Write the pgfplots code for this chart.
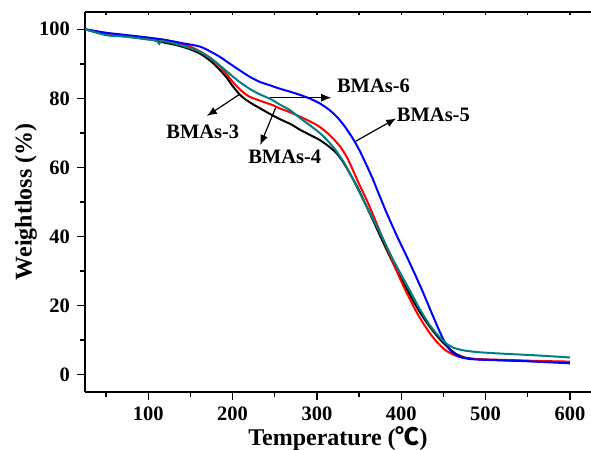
\documentclass[border=0pt]{standalone}
\usepackage{fontspec}
\setmainfont{Liberation Serif}
\newfontfamily\cjk{Noto Sans CJK SC}
\usepackage{pgfplots}
\pgfplotsset{compat=1.18}
\usetikzlibrary{arrows.meta}

\definecolor{darkcyan}{RGB}{0,128,128}

\begin{document}
\begin{tikzpicture}
% picture frame: the axis box is (0,0)--(253pt,190pt)
\useasboundingbox (-42.5pt,-29pt) rectangle (253pt,196pt);
\begin{axis}[
  name=main,
  scale only axis, width=253pt, height=190pt,
  xmin=25, xmax=625, ymin=-5, ymax=105,
  axis x line=bottom, axis y line=left,
  axis line style={-, line width=0.7pt},
  xtick={100,200,...,600}, minor xtick={50,150,...,550},
  ytick={0,20,...,100}, minor ytick={10,30,...,90},
  tick align=outside, major tick length=4pt, minor tick length=2.5pt,
  every tick/.style={black, line width=0.7pt},
  tick label style={font=\fontsize{10.25}{12}\selectfont\bfseries},
  /pgf/number format/assume math mode=true,
  xlabel={Temperature ({\cjk\bfseries ℃})},
  ylabel={Weightloss (\%)},
  label style={font=\fontsize{12}{14}\selectfont\bfseries},
  xlabel style={at={(axis description cs:0.5,0)}, anchor=center, yshift=-23.5pt},
  ylabel style={at={(axis description cs:0,0.5)}, anchor=center, yshift=29.5pt},
  clip=false,
  every axis plot/.append style={line width=1pt, smooth},
]
% BMAs-3
\addplot[black] coordinates {
(25,100) (50,98.6) (75,97.9) (100,97.2) (114,96.4) (130,95.6) (145,94.6)
(161,93.0) (175,90.6) (185,88.2) (193,86) (200,83.6) (207,81.5) (212,80.3)
(222,78.6) (232,77.2) (245,75.4) (256,74.0) (270,72.4) (280,70.9) (292,69.4)
(303,68.0) (313,66.3) (323,64.2) (331,61.6) (339,58.3) (348,54.3) (357,49.7)
(366,45) (375,40.2) (385,35) (395,30) (405,25.5) (415,21) (425,17) (435,13.5)
(445,10.5) (455,8) (465,6) (475,5.0) (490,4.5) (520,4.2) (560,3.9) (600,3.6)
};
% BMAs-4
\addplot[red] coordinates {
(25,100) (50,98.8) (75,98) (100,97.4) (115,97.1) (130,96.4) (145,95.4)
(160,93.8) (175,91.5) (185,89.2) (193,87) (200,84.8) (210,82.3) (220,80.5)
(234,79.2) (248,78) (256,77.1) (268,76) (280,74.7) (292,73.3) (303,71.8)
(315,69.4) (327,66.2) (335,63.2) (342,59.6) (350,55.2) (359,50.6) (366,46.6)
(375,41.3) (385,35.5) (395,29.8) (402,26) (412,21) (422,16.5) (434,12)
(444,9) (453,7) (462,5.8) (472,5) (490,4.5) (520,4.3) (560,4.0) (600,3.8)
};
% BMAs-5
\addplot[blue] coordinates {
(25,100) (50,99) (75,98.3) (100,97.6) (120,96.9) (140,96) (161,95)
(175,93.4) (185,92) (197,90) (208,88.2) (220,86.3) (232,84.8) (244,83.8)
(256,82.8) (270,81.8) (280,81) (291,80) (303,78.6) (315,76.6) (325,74.3)
(335,71.2) (345,67.4) (352,64.2) (359,60.6) (366,56.8) (373,52.6) (380,48.4)
(386,45) (395,40.1) (405,35) (414,30.3) (425,24.3) (435,18.5) (445,12.8)
(452,9.3) (460,6.6) (469,5.2) (480,4.6) (500,4.3) (540,4.0) (600,3.3)
};
% BMAs-6
\addplot[darkcyan] coordinates {
(25,100) (50,98.3) (75,97.8) (100,97.0) (110,96.7) (113,95.8) (116,96.6)
(130,95.9) (145,94.9) (161,93.5) (175,91.4) (185,89.5) (197,87) (208,84.8)
(220,82.8) (232,81.2) (245,79.8) (256,78.2) (268,76.6) (280,74.3) (295,71.6)
(307,69.2) (319,66) (328,63) (335,60.2) (345,55.5) (355,50.6) (362,47.2)
(370,43.5) (380,38.5) (392,32.5) (410,24.5) (422,19) (434,14.3) (445,11)
(453,9.1) (462,7.8) (475,7.0) (493,6.5) (520,6.1) (560,5.6) (600,5.0)
};

\begin{scope}[-{Latex[length=5pt,width=4pt]}, line width=0.6pt, black]
\draw (axis cs:208.5,81.2) -- (axis cs:169.5,74.9);
\draw (axis cs:251.1,77.3) -- (axis cs:232.8,66.5);
\draw (axis cs:244.9,80.2) -- (axis cs:317.0,80.2);
\draw (axis cs:344.6,67.4) -- (axis cs:394.0,74.2);
\end{scope}
\begin{scope}[every node/.style={font=\fontsize{10.25}{12}\selectfont\bfseries}]
\node at (axis cs:164.7,70.2) {BMAs-3};
\node at (axis cs:261.8,63.0) {BMAs-4};
\node at (axis cs:438.1,75.2) {BMAs-5};
\node at (axis cs:367.1,83.6) {BMAs-6};
\end{scope}
\end{axis}

% top frame line with small inward ticks
\begin{axis}[
  scale only axis, width=253pt, height=190pt,
  xmin=25, xmax=625, ymin=-5, ymax=105,
  axis x line=top, axis y line=none,
  axis line style={-, line width=0.7pt},
  xtick={50,100,...,600}, xticklabels={}, ytick=\empty,
  tick align=inside, major tick length=1.5pt,
  every tick/.style={black, line width=0.6pt},
]
\end{axis}
\end{tikzpicture}
\end{document}
